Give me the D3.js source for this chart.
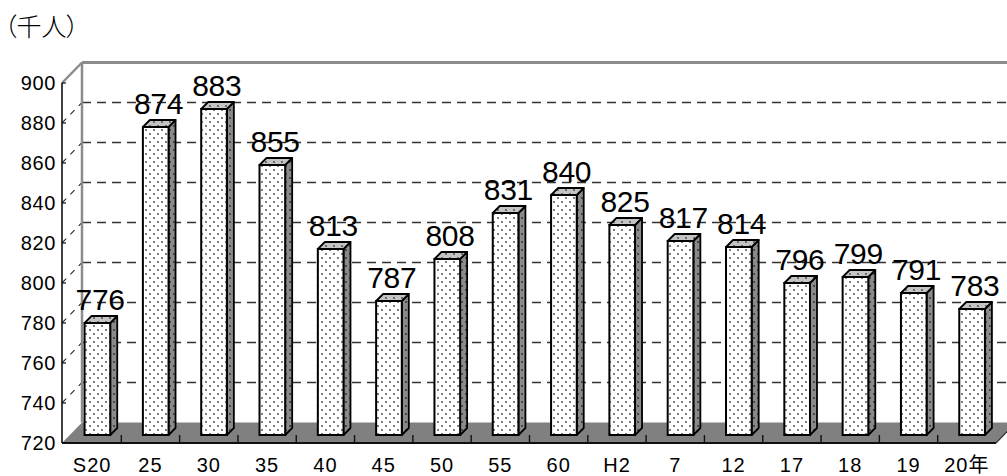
<!DOCTYPE html>
<html>
<head>
<meta charset="utf-8">
<script src="https://cdn.jsdelivr.net/npm/d3@7/dist/d3.min.js"></script>
<style>
  html, body { margin: 0; padding: 0; background: #fff; }
  svg { display: block; }
  text { font-family: "Liberation Sans", Arial, "Noto Sans CJK JP", sans-serif; fill: #000; }
</style>
</head>
<body>
<svg id="chart" width="1007" height="476"></svg>
<script>
// Population by year (thousands of people)
const categories = ["S20", "25", "30", "35", "40", "45", "50", "55", "60", "H2", "7", "12", "17", "18", "19", "20年"];
const values = [776, 874, 883, 855, 813, 787, 808, 831, 840, 825, 817, 814, 796, 799, 791, 783];
const yTicks = [720, 740, 760, 780, 800, 820, 840, 860, 880, 900];
const unitLabel = "（千人）";

(function draw() {
  const svg = d3.select("#chart");
  const W = 1007;

  const plotLeft = 63, plotRight = 996, plotBottom = 443, plotTop = 83;
  const depth = { x: 20, y: -20.5 };      // back wall offset
  const barShift = { x: 0, y: -8 };       // columns sit slightly behind the front edge
  const barDepth = 7;                     // 3D thickness of each column

  const x = d3.scaleBand().domain(categories).range([plotLeft, plotRight]).paddingInner(0).paddingOuter(0);
  const y = d3.scaleLinear().domain([720, 900]).range([plotBottom, plotTop]);
  const bw = x.bandwidth();

  // Dot fill patterns for column faces
  const defs = svg.append("defs");
  function dotPattern(id, bg, dot) {
    const p = defs.append("pattern").attr("id", id).attr("patternUnits", "userSpaceOnUse")
      .attr("width", 8).attr("height", 8);
    p.append("rect").attr("width", 8).attr("height", 8).attr("fill", bg);
    p.append("circle").attr("cx", 2).attr("cy", 2).attr("r", 0.9).attr("fill", dot);
    p.append("circle").attr("cx", 6).attr("cy", 6).attr("r", 0.9).attr("fill", dot);
  }
  dotPattern("dotFront", "#ffffff", "#444");
  dotPattern("dotSide", "#8a8a8a", "#2a2a2a");
  dotPattern("dotTop", "#c4c4c4", "#444");

  // Unit label
  svg.append("text")
    .attr("x", 4).attr("y", 36)
    .style("font-family", "'Noto Sans CJK JP', sans-serif")
    .style("font-size", "25px")
    .style("font-weight", "300")
    .style("font-feature-settings", "'palt'")
    .text(unitLabel);

  const x0 = x.range()[0] - 1, x1 = x.range()[1];
  const inner = yTicks.filter(t => t > 720 && t < 900);

  // Back wall gridlines
  svg.append("g").selectAll("line")
    .data(inner)
    .join("line")
    .attr("x1", x0 + depth.x).attr("x2", x1 + depth.x)
    .attr("y1", d => y(d) + depth.y).attr("y2", d => y(d) + depth.y)
    .attr("stroke", "#333").attr("stroke-width", 1.4)
    .attr("stroke-dasharray", "9,6");

  // Side wall diagonals
  svg.append("g").selectAll("line")
    .data(inner)
    .join("line")
    .attr("x1", x0).attr("y1", d => y(d))
    .attr("x2", x0 + depth.x).attr("y2", d => y(d) + depth.y)
    .attr("stroke", "#333").attr("stroke-width", 1.2)
    .attr("stroke-dasharray", "6,6");

  // Floor
  svg.append("polygon")
    .attr("points", [
      [x0, y(720)], [x1, y(720)],
      [x1 + depth.x, y(720) + depth.y], [x0 + depth.x, y(720) + depth.y]
    ].map(p => p.join(",")).join(" "))
    .attr("fill", "#808080");

  // Wall frame
  svg.append("line")
    .attr("x1", x0 + depth.x).attr("x2", x0 + depth.x)
    .attr("y1", y(900) + depth.y).attr("y2", y(720) + depth.y)
    .attr("stroke", "#8c8c8c").attr("stroke-width", 2.5);
  svg.append("line")
    .attr("x1", x0).attr("y1", y(900))
    .attr("x2", x0 + depth.x).attr("y2", y(900) + depth.y)
    .attr("stroke", "#8c8c8c").attr("stroke-width", 2.5);
  svg.append("line")
    .attr("x1", x0 + depth.x).attr("x2", W + 5)
    .attr("y1", y(900) + depth.y).attr("y2", y(900) + depth.y)
    .attr("stroke", "#8c8c8c").attr("stroke-width", 3);

  // Front vertical axis
  svg.append("line")
    .attr("x1", x0).attr("x2", x0).attr("y1", y(900)).attr("y2", y(720))
    .attr("stroke", "#111").attr("stroke-width", 1.6);
  svg.append("g").selectAll("line")
    .data(yTicks)
    .join("line")
    .attr("x1", x0).attr("x2", x0 + 4)
    .attr("y1", d => y(d)).attr("y2", d => y(d))
    .attr("stroke", "#111").attr("stroke-width", 1.2);

  const yAxis = svg.append("g")
    .attr("transform", `translate(${x0},0)`)
    .call(d3.axisLeft(y).tickValues(yTicks).tickSize(0).tickPadding(6));
  yAxis.select(".domain").remove();
  yAxis.selectAll("text")
    .style("font-family", "'Liberation Sans', Arial, sans-serif")
    .style("font-size", "20px").style("letter-spacing", "0.6px").attr("fill", "#000");

  // Floor front edge and category ticks
  svg.append("line")
    .attr("x1", x0).attr("x2", x1).attr("y1", y(720)).attr("y2", y(720))
    .attr("stroke", "#111").attr("stroke-width", 2);
  svg.append("line")
    .attr("x1", x1).attr("y1", y(720))
    .attr("x2", x1 + depth.x).attr("y2", y(720) + depth.y)
    .attr("stroke", "#333").attr("stroke-width", 1.2);
  svg.append("g").selectAll("line")
    .data(categories.slice(1))
    .join("line")
    .attr("x1", d => x(d)).attr("x2", d => x(d))
    .attr("y1", y(720)).attr("y2", y(720) - 8)
    .attr("stroke", "#111").attr("stroke-width", 1.4);

  const xAxis = svg.append("g")
    .attr("transform", `translate(0,${y(720)})`)
    .call(d3.axisBottom(x).tickSize(0).tickPadding(15));
  xAxis.select(".domain").remove();
  xAxis.selectAll("text")
    .style("font-family", "'Liberation Sans', Arial, 'Noto Sans CJK JP', sans-serif")
    .style("font-size", "20px").style("letter-spacing", "1px").attr("fill", "#000");

  // Columns
  const faceW = bw * 0.44;
  const faceOff = bw * 0.37;
  const rows = categories.map((c, i) => ({ c, v: values[i] }));
  const bars = svg.append("g").selectAll("g")
    .data(rows)
    .join("g");

  bars.each(function(d) {
    const g = d3.select(this);
    const fx = x(d.c) + faceOff + barShift.x;
    const fTop = y(d.v) + barShift.y;
    const fBot = y(720) + barShift.y;
    const dx = barDepth, dy = -barDepth;
    // side face
    g.append("polygon")
      .attr("points", [[fx + faceW, fTop], [fx + faceW + dx, fTop + dy], [fx + faceW + dx, fBot + dy], [fx + faceW, fBot]]
        .map(p => p.join(",")).join(" "))
      .attr("fill", "url(#dotSide)").attr("stroke", "#000").attr("stroke-width", 1.8)
      .attr("stroke-linejoin", "round");
    // top face
    g.append("polygon")
      .attr("points", [[fx, fTop], [fx + dx, fTop + dy], [fx + faceW + dx, fTop + dy], [fx + faceW, fTop]]
        .map(p => p.join(",")).join(" "))
      .attr("fill", "url(#dotTop)").attr("stroke", "#000").attr("stroke-width", 1.8)
      .attr("stroke-linejoin", "round");
    // front face
    g.append("rect")
      .attr("x", fx).attr("y", fTop).attr("width", faceW).attr("height", fBot - fTop)
      .attr("fill", "url(#dotFront)").attr("stroke", "#000").attr("stroke-width", 2);
  });

  // Value labels
  svg.append("g").selectAll("text")
    .data(rows)
    .join("text")
    .attr("x", d => x(d.c) + bw / 2 + 8)
    .attr("y", d => y(d.v) + barShift.y - barDepth - 6)
    .attr("text-anchor", "middle")
    .style("font-size", "30px").style("letter-spacing", "-0.3px")
    .text(d => d.v);
})();
</script>
</body>
</html>
